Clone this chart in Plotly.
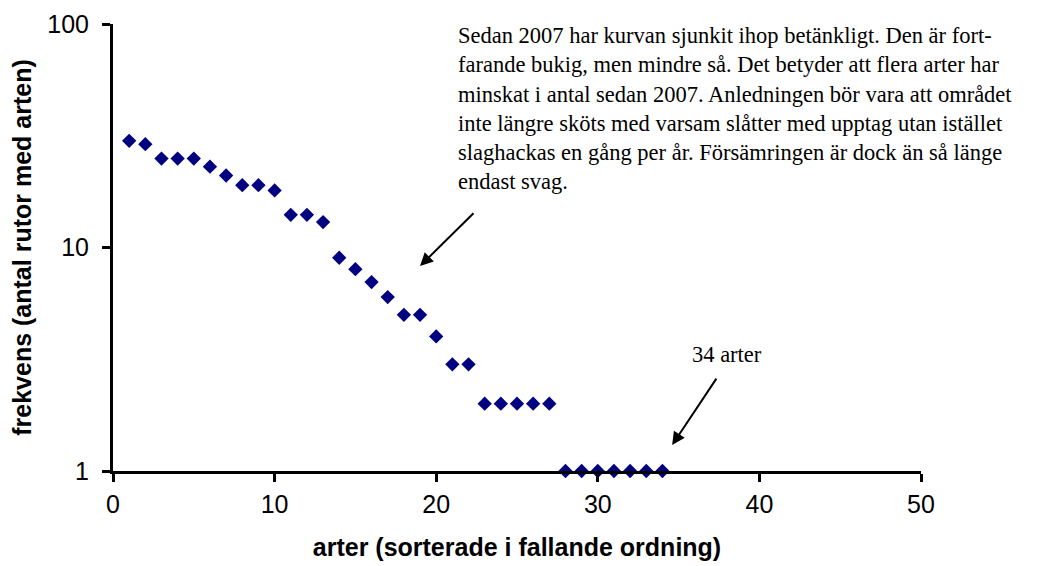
import plotly.graph_objects as go

# species rank and frequency (number of squares with the species)
arter = list(range(1, 35))
frekvens = [30, 29, 25, 25, 25, 23, 21, 19, 19, 18,
            14, 14, 13, 9, 8, 7, 6, 5, 5, 4,
            3, 3, 2, 2, 2, 2, 2, 1, 1, 1,
            1, 1, 1, 1]

xticks = [0, 10, 20, 30, 40, 50]
yticks = [1, 10, 100]

note = ("Sedan 2007 har kurvan sjunkit ihop betänkligt. Den är fort-<br>"
        "farande bukig, men mindre så. Det betyder att flera arter har<br>"
        "minskat i antal sedan 2007. Anledningen bör vara att området<br>"
        "inte längre sköts med varsam slåtter med upptag utan istället<br>"
        "slaghackas en gång per år. Försämringen är dock än så länge<br>"
        "endast svag.")

fig = go.Figure(go.Scatter(
    x=arter, y=frekvens, mode='markers',
    marker=dict(symbol='diamond', size=11, color='#000080'),
    showlegend=False, cliponaxis=False))

tick_font = dict(family='Liberation Sans, Arial', size=25, color='black')
title_font = dict(family='Liberation Sans, Arial', size=25, color='black')
fig.update_xaxes(range=[0, 50], tickvals=xticks, ticks='outside', ticklen=8,
                 tickwidth=3, tickcolor='black', showline=True, linecolor='black',
                 linewidth=3, showgrid=False, zeroline=False, tickfont=tick_font,
                 ticklabelstandoff=1, automargin=False,
                 title=dict(text='<b>arter (sorterade i fallande ordning)</b>',
                            font=title_font, standoff=22))
fig.update_yaxes(type='log', range=[0, 2], tickvals=yticks, ticks='outside',
                 ticklen=8, tickwidth=3, tickcolor='black', showline=True,
                 linecolor='black', linewidth=3, showgrid=False, zeroline=False,
                 tickfont=tick_font, ticklabelstandoff=8, automargin=False,
                 title=dict(text='<b>frekvens (antal rutor med arten)</b>',
                            font=title_font, standoff=12))

serif = dict(family='Liberation Serif, Times New Roman', size=22.5, color='black')
fig.add_annotation(xref='paper', yref='paper', x=0.4245, y=1.0075, xanchor='left',
                   yanchor='top', align='left', text=note, showarrow=False,
                   font=serif)
fig.add_annotation(x=19.0, y=0.917, ax=22.4, ay=1.16, axref='x', ayref='y',
                   text='', showarrow=True, arrowhead=2, arrowsize=1.3,
                   arrowwidth=2, arrowcolor='black')
fig.add_annotation(x=34.6, y=0.116, ax=37.4, ay=0.42, axref='x', ayref='y',
                   text='', showarrow=True, arrowhead=2, arrowsize=1.3,
                   arrowwidth=2, arrowcolor='black')
fig.add_annotation(x=38.0, y=0.52, text='34 arter', showarrow=False, font=serif)

fig.update_layout(width=1051, height=566, plot_bgcolor='white',
                  paper_bgcolor='white',
                  margin=dict(l=105, r=138, t=16, b=103))
fig.write_html("out.html")
